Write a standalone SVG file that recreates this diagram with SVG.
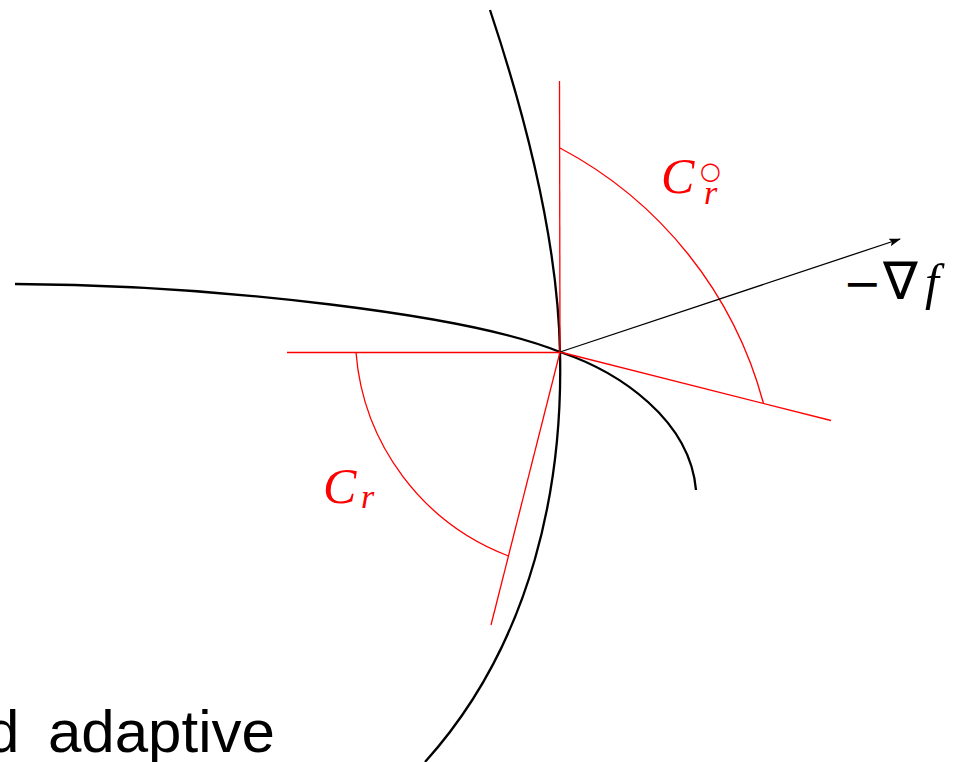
<svg xmlns="http://www.w3.org/2000/svg" width="959" height="762" viewBox="0 0 959 762">
<style>
.curve{fill:none;stroke:#000;stroke-width:2.3;stroke-linecap:butt}
.red{fill:none;stroke:#ff0000;stroke-width:1.3}
.arrow{fill:none;stroke:#000;stroke-width:1.3}
.math{font-family:"Liberation Serif","DejaVu Serif",serif;font-style:italic}
.up{font-family:"DejaVu Sans","Liberation Sans",sans-serif;font-style:normal}
.redt{fill:#ff0000}
.body{font-family:"Liberation Sans","DejaVu Sans",sans-serif;font-size:60px;fill:#000}
</style>
<defs>
<marker id="ah" viewBox="0 0 12 8" refX="11" refY="4" markerWidth="12" markerHeight="8" markerUnits="userSpaceOnUse" orient="auto">
<path d="M0,0 L12,4 L0,8 L2.5,4 Z" fill="#000"/>
</marker>
</defs>
<g id="curves">
<path class="curve" d="M490,10 C530,130 558,250 560,352 C563,480 535,640 425,762"/>
<path class="curve" d="M15,284 C220,285 470,315 560,352 C620,372 690,420 696,490"/>
</g>
<g id="cone-polar">
<line class="red" x1="559.5" y1="81" x2="560" y2="352"/>
<line class="red" x1="560" y1="352" x2="831" y2="420.5"/>
<path class="red" d="M560,148 A408,408 0 0 1 763.5,403.5"/>
</g>
<g id="cone">
<line class="red" x1="287" y1="352.5" x2="560" y2="352.5"/>
<line class="red" x1="560" y1="352" x2="491" y2="625"/>
<path class="red" d="M356,352.5 A238,238 0 0 0 508.5,556"/>
</g>
<g id="connectors">
<line class="arrow" x1="560" y1="352" x2="900" y2="239" marker-end="url(#ah)"/>
</g>
<g id="label-cr-circ" class="redt">
<text class="math" font-size="50"><tspan x="661" y="193">C</tspan><tspan class="up" x="700" y="179" font-size="24" font-weight="bold">○</tspan><tspan x="704" y="204" font-size="34">r</tspan></text>
</g>
<g id="label-grad">
<text y="299"><tspan class="up" x="843" font-size="46">−</tspan><tspan class="up" x="883" font-size="52">∇</tspan><tspan class="math" x="925" font-size="50">f</tspan></text>
</g>
<g id="label-cr" class="redt">
<text class="math" font-size="50"><tspan x="323" y="503">C</tspan><tspan x="361" y="508" font-size="34">r</tspan></text>
</g>
<g id="caption">
<text class="body" y="752"><tspan x="-14">d</tspan> <tspan x="48">adaptive</tspan></text>
</g>
</svg>
